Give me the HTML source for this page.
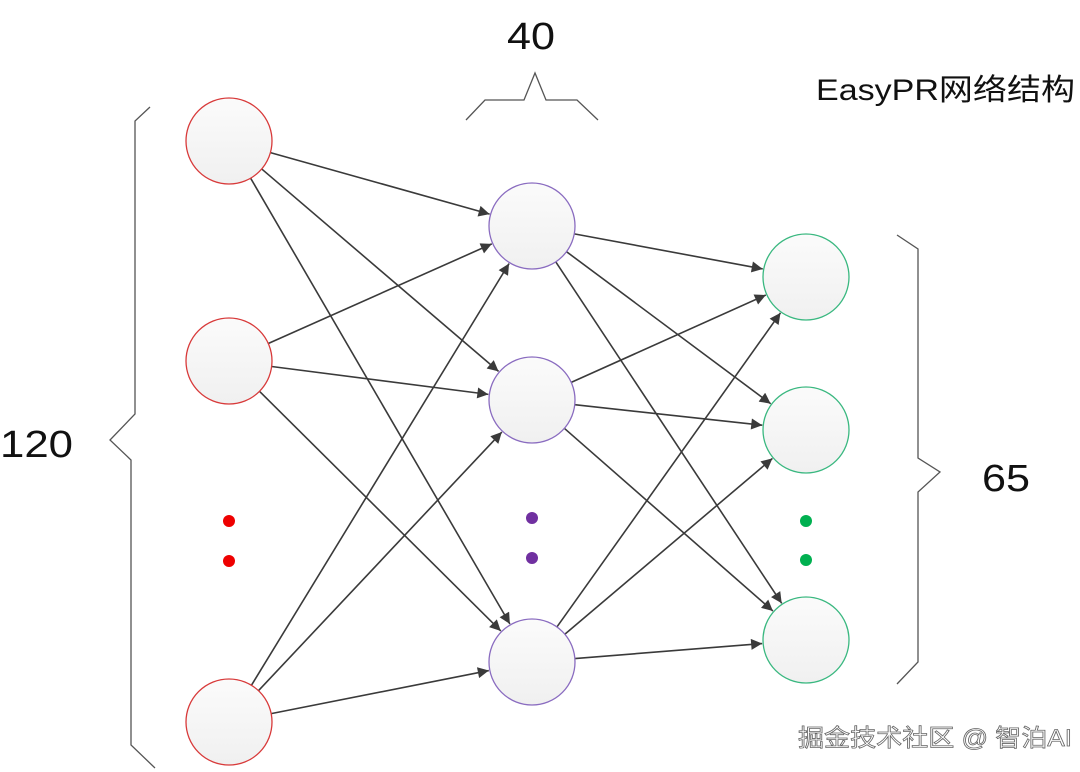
<!DOCTYPE html>
<html><head><meta charset="utf-8"><style>
html,body{margin:0;padding:0;background:#fff;width:1080px;height:772px;overflow:hidden}
svg{display:block}
text{font-family:"Liberation Sans","Noto Sans CJK SC",sans-serif}
</style></head><body>
<svg id="s" width="1080" height="772" viewBox="0 0 1080 772" xmlns="http://www.w3.org/2000/svg">
<defs>
<linearGradient id="g" x1="0" y1="0" x2="0" y2="1">
<stop offset="0" stop-color="#fbfbfb"/><stop offset="1" stop-color="#f0f0f0"/>
</linearGradient>
<marker id="a" viewBox="0 0 10 10" refX="10" refY="5" markerWidth="13" markerHeight="11" markerUnits="userSpaceOnUse" orient="auto">
<path d="M0,0 L10,5 L0,10 z" fill="#3a3a3a"/>
</marker>
</defs>
<g fill="none" stroke="#555" stroke-width="1.3">
<polyline points="150,107 135,121 135,414 110,440 131,460 131,745 155,768"/>
<polyline points="466,120 485,100 524,100 535,73 546,100 577,100 598,120"/>
<polyline points="897,235 918,249 918,458 940,472 918,492 918,662 897,684"/>
</g>
<g id="lines" stroke="#3a3a3a" stroke-width="1.6"></g>
<g id="nodes"></g>
<circle cx="229" cy="521" r="6" fill="#e00"/><circle cx="229" cy="561" r="6" fill="#e00"/>
<circle cx="532" cy="518" r="6" fill="#7030a0"/><circle cx="532" cy="558" r="6" fill="#7030a0"/>
<circle cx="806" cy="521" r="6" fill="#00b050"/><circle cx="806" cy="560" r="6" fill="#00b050"/>
<text x="507" y="49" font-size="38" fill="#111" textLength="48" lengthAdjust="spacingAndGlyphs">40</text>
<text x="0" y="457" font-size="38" fill="#111" textLength="73" lengthAdjust="spacingAndGlyphs">120</text>
<text x="982" y="491" font-size="38" fill="#111" textLength="48" lengthAdjust="spacingAndGlyphs">65</text>
<text x="816" y="100" font-size="30" fill="#111" textLength="259" lengthAdjust="spacingAndGlyphs">EasyPR网络结构</text>
<text x="798" y="746" font-size="24" fill="#fff" stroke="#666" stroke-width="0.8" textLength="274" lengthAdjust="spacingAndGlyphs">掘金技术社区 @ 智泊AI</text>
</svg>
<script>
var L1=[[229,141],[229,361],[229,722]],L2=[[532,226],[532,400],[532,662]],L3=[[806,277],[806,430],[806,640]],R=43;
var ns="http://www.w3.org/2000/svg",lg=document.getElementById('lines'),ng=document.getElementById('nodes');
function conn(A,B){A.forEach(function(p){B.forEach(function(q){var dx=q[0]-p[0],dy=q[1]-p[1],d=Math.hypot(dx,dy),ux=dx/d,uy=dy/d;var l=document.createElementNS(ns,'line');l.setAttribute('x1',p[0]+ux*R);l.setAttribute('y1',p[1]+uy*R);l.setAttribute('x2',q[0]-ux*(R+1));l.setAttribute('y2',q[1]-uy*(R+1));l.setAttribute('marker-end','url(#a)');lg.appendChild(l);});});}
conn(L1,L2);conn(L2,L3);
function nodes(A,c){A.forEach(function(p){var e=document.createElementNS(ns,'circle');e.setAttribute('cx',p[0]);e.setAttribute('cy',p[1]);e.setAttribute('r',R);e.setAttribute('fill','url(#g)');e.setAttribute('stroke',c);e.setAttribute('stroke-width','1.3');ng.appendChild(e);});}
nodes(L1,'#d83a3a');nodes(L2,'#8a6cc0');nodes(L3,'#3ab880');
</script>
</body></html>
